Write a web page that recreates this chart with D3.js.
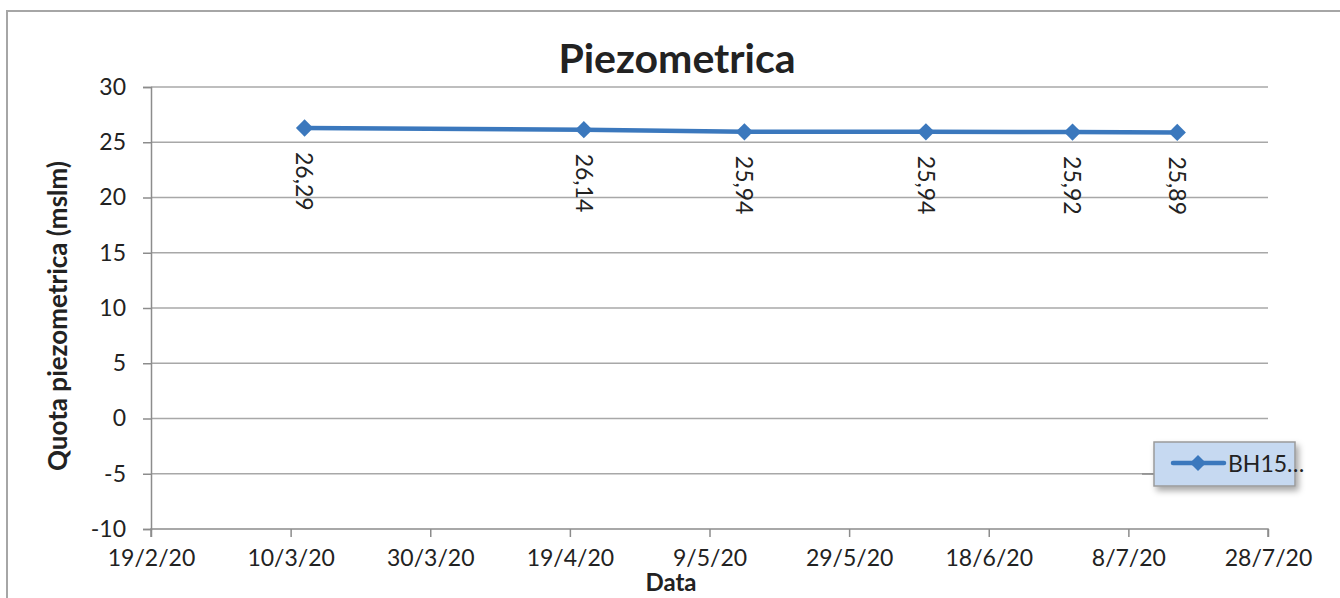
<!DOCTYPE html>
<html><head><meta charset="utf-8">
<script src="https://cdn.jsdelivr.net/npm/d3@7"></script>
<style>body{margin:0;background:#fff}svg{display:block}text{font-family:Lato,"Open Sans",sans-serif;fill:#222}</style>
</head><body>
<svg id="c" width="1340" height="598"></svg>
<script>
const dates = ["2020-03-12","2020-04-21","2020-05-14","2020-06-09","2020-06-30","2020-07-15"];
const values = [26.29, 26.14, 25.94, 25.94, 25.92, 25.89];
const valueLabels = ["26,29","26,14","25,94","25,94","25,92","25,89"];
const xTickDates = ["2020-02-19","2020-03-10","2020-03-30","2020-04-19","2020-05-09","2020-05-29","2020-06-18","2020-07-08","2020-07-28"];
const xTickLabels = ["19/2/20","10/3/20","30/3/20","19/4/20","9/5/20","29/5/20","18/6/20","8/7/20","28/7/20"];
const yTicks = [-10,-5,0,5,10,15,20,25,30];
const seriesName = "BH15…";

const svg = d3.select("#c");
const parse = d3.utcParse("%Y-%m-%d");
const L = 151, R = 1268, T = 87, B = 529;
const x = d3.scaleUtc().domain([parse(xTickDates[0]), parse(xTickDates[xTickDates.length-1])]).range([L, R]);
const y = d3.scaleLinear().domain([-10, 30]).range([B, T]);
const blue = "#3b78bd";

// outer border
svg.append("rect").attr("x",7).attr("y",11).attr("width",1345).attr("height",600)
  .attr("fill","none").attr("stroke","#a6a6a6").attr("stroke-width",2);

// gridlines
svg.append("g").selectAll("line").data(yTicks.filter(d=>d!==-10)).join("line")
  .attr("x1",L).attr("x2",R).attr("y1",d=>y(d)).attr("y2",d=>y(d))
  .attr("stroke","#a8a8a8").attr("stroke-width",1.5);

// y axis
const yAxis = svg.append("g").attr("transform",`translate(${L},0)`)
  .call(d3.axisLeft(y).tickValues(yTicks).tickSize(8).tickPadding(17).tickFormat(d=>String(d)));
yAxis.select(".domain").attr("stroke","#8c8c8c").attr("stroke-width",1.5);
yAxis.selectAll(".tick line").attr("stroke","#8c8c8c").attr("stroke-width",1.5);
yAxis.selectAll("text").style("font-size","23px").attr("fill","#222").style("font-family","Lato");

// x axis
const xAxis = svg.append("g").attr("transform",`translate(0,${B})`)
  .call(d3.axisBottom(x).tickValues(xTickDates.map(parse)).tickSize(8).tickPadding(13)
    .tickFormat((d,i)=>xTickLabels[i]));
xAxis.select(".domain").attr("stroke","#8c8c8c").attr("stroke-width",1.5).attr("d",`M${L},8V0H${R}V8`);
xAxis.selectAll(".tick line").attr("stroke","#8c8c8c").attr("stroke-width",1.5);
xAxis.selectAll("text").style("font-size","23px").attr("fill","#222").style("font-family","Lato");

// title & axis titles
svg.append("text").attr("x",677).attr("y",73).attr("text-anchor","middle")
  .style("font-size","41px").style("font-weight","bold").text("Piezometrica");
svg.append("text").attr("transform","translate(67,316) rotate(-90)").attr("text-anchor","middle")
  .style("font-size","26px").style("font-weight","bold").text("Quota piezometrica (mslm)");
svg.append("text").attr("x",671).attr("y",591).attr("text-anchor","middle")
  .style("font-size","24px").style("font-weight","bold").text("Data");

// line
const pts = dates.map((d,i)=>({d:parse(d), v:values[i], lab:valueLabels[i]}));
svg.append("path").datum(pts)
  .attr("d", d3.line().x(p=>x(p.d)).y(p=>y(p.v)))
  .attr("fill","none").attr("stroke",blue).attr("stroke-width",4.5).attr("stroke-linejoin","round");
svg.append("g").selectAll("path").data(pts).join("path")
  .attr("transform",p=>`translate(${x(p.d)},${y(p.v)}) rotate(45)`)
  .attr("d", d3.symbol().type(d3.symbolSquare).size(150)).attr("fill",blue);

// data labels
svg.append("g").selectAll("text").data(pts).join("text")
  .attr("transform",p=>`translate(${x(p.d)},${y(p.v)+24}) rotate(90)`)
  .attr("dy","0.36em").attr("text-anchor","start")
  .style("font-size","23px").text(p=>p.lab);

// legend
const lg = svg.append("g");
lg.append("line").attr("x1",1142).attr("x2",1155).attr("y1",474).attr("y2",474).attr("stroke","#8c8c8c").attr("stroke-width",1.5);
const defs = svg.append("defs");
const f = defs.append("filter").attr("id","sh").attr("x","-20%").attr("y","-20%").attr("width","150%").attr("height","170%");
f.append("feDropShadow").attr("dx",3).attr("dy",4).attr("stdDeviation",3).attr("flood-color","#000").attr("flood-opacity",0.35);
lg.append("rect").attr("x",1154).attr("y",442).attr("width",141).attr("height",44)
  .attr("fill","#c6d9f1").attr("stroke","#9a9a9a").attr("stroke-width",1.5).attr("filter","url(#sh)");
lg.append("line").attr("x1",1173).attr("x2",1224).attr("y1",463).attr("y2",463)
  .attr("stroke",blue).attr("stroke-width",4.5).attr("stroke-linecap","round");
lg.append("path").attr("transform","translate(1198,463) rotate(45)")
  .attr("d", d3.symbol().type(d3.symbolSquare).size(130)).attr("fill",blue);
lg.append("text").attr("x",1228).attr("y",472).style("font-size","23px").text(seriesName);
</script>
</body></html>
